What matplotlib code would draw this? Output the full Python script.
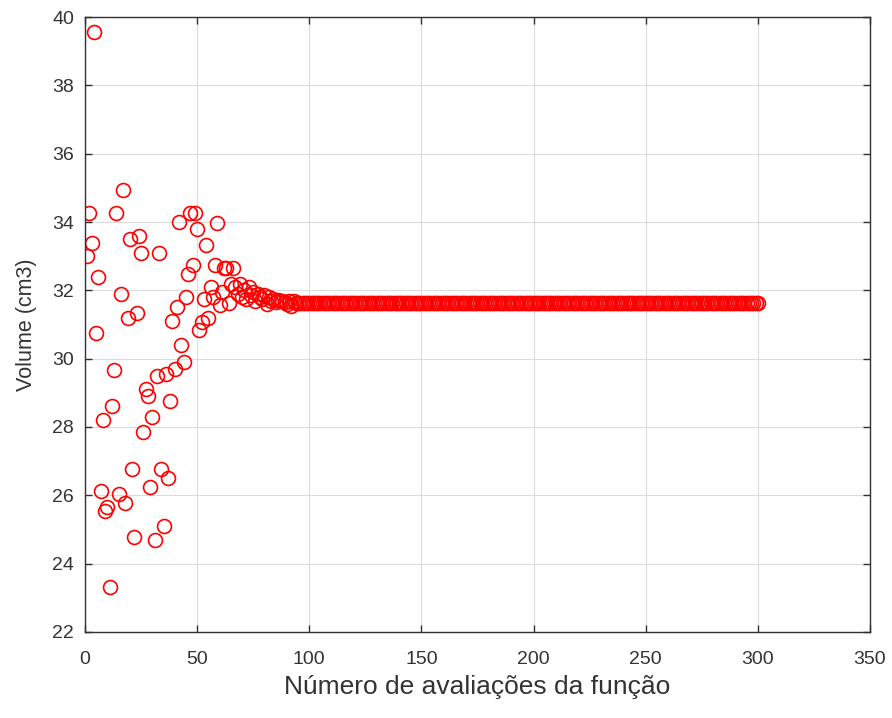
import numpy as np
import matplotlib.pyplot as plt

plt.rcParams['font.family'] = ['Liberation Sans', 'DejaVu Sans']

# volume per function evaluation
early = [33.0, 34.26, 33.38, 39.56, 30.75, 32.39, 26.13, 28.2, 25.55, 25.66,
         23.32, 28.6, 29.67, 34.26, 26.04, 31.9, 34.94, 25.78, 31.2, 33.5,
         26.77, 24.78, 31.33, 33.59, 33.1, 27.85, 29.1, 28.9, 26.25, 28.3,
         24.7, 29.5, 33.1, 26.77, 25.1, 29.55, 26.5, 28.75, 31.1, 29.7,
         31.5, 34.0, 30.4, 29.9, 31.8, 32.48, 34.26, 32.74, 34.26, 33.79,
         30.84, 31.07, 31.74, 33.33, 31.2, 32.1, 31.8, 32.74, 33.97, 31.57,
         31.95, 32.65, 32.65, 31.63, 32.2, 32.65, 32.1]
settling = [31.9, 32.2, 31.8, 32.0, 31.75, 32.1, 31.85, 31.95, 31.7, 31.9,
            31.8, 31.75, 31.85, 31.6, 31.8, 31.7, 31.75, 31.65, 31.72, 31.68,
            31.7, 31.65, 31.6, 31.7, 31.55, 31.68, 31.62]
n_total = 300
plateau = [31.62] * (n_total - len(early) - len(settling))

volume = np.array(early + settling + plateau)
evals = np.arange(1, len(volume) + 1)

fig = plt.figure(figsize=(8.92, 7.18), dpi=100)
ax = fig.add_axes([0.0953, 0.1198, 0.88, 0.8565])

ax.plot(evals, volume, 'o', markersize=10, markerfacecolor='none',
        markeredgecolor='red', markeredgewidth=1.2)

ax.set_xlim(0, 350)
ax.set_ylim(22, 40)
ax.set_xticks(np.arange(0, 351, 50))
ax.set_yticks(np.arange(22, 41, 2))
ax.grid(True, color='#dcdcdc', linewidth=0.8)
ax.set_axisbelow(True)

for s in ax.spines.values():
    s.set_color('#303030')
    s.set_linewidth(1.0)
ax.tick_params(direction='in', colors='#303030', labelcolor='#333333',
               labelsize=14, top=True, right=True, length=5, width=1.0)
ax.tick_params(axis='x', pad=13.5)
ax.tick_params(axis='y', pad=8)

ax.set_xlabel('Número de avaliações da função', fontsize=19,
              color='#333333', labelpad=5)
ax.set_ylabel('Volume (cm3)', fontsize=15.5, color='#333333', labelpad=11)

fig.savefig('out.png', dpi=100, facecolor='w')
